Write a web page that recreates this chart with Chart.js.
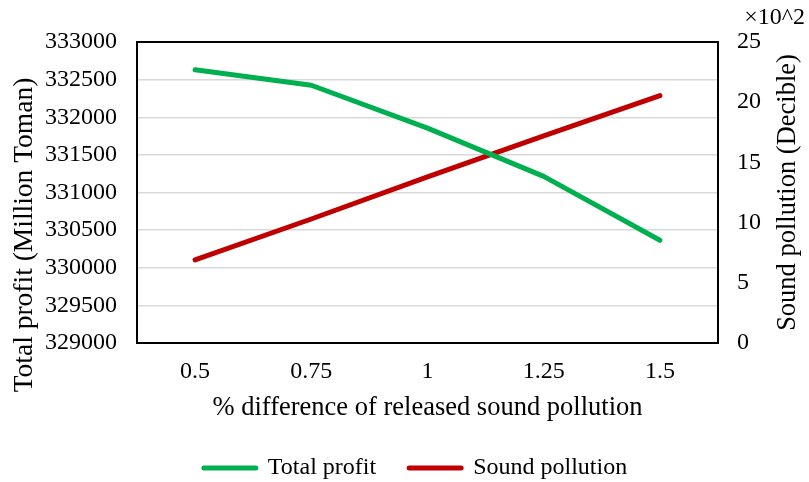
<!DOCTYPE html>
<html>
<head>
<meta charset="utf-8">
<script src="https://cdn.jsdelivr.net/npm/chart.js@4/dist/chart.umd.min.js"></script>
<style>
html,body{margin:0;padding:0;background:#fff;}
#wrap{width:809px;height:482px;position:relative;}
canvas{display:block;}
</style>
</head>
<body>
<div id="wrap"><canvas id="c" width="809" height="482" style="width:809px;height:482px"></canvas></div>
<script>
const categories = ['0.5', '0.75', '1', '1.25', '1.5'];
const totalProfit = [332630, 332425, 331855, 331215, 330365];
const soundPollution = [6.9, 10.3, 13.8, 17.2, 20.55];
const leftTicks = [329000, 329500, 330000, 330500, 331000, 331500, 332000, 332500, 333000];
const rightTicks = [0, 5, 10, 15, 20, 25];
const xTitle = '% difference of released sound pollution';
const leftTitle = 'Total profit (Million Toman)';
const rightTitle = 'Sound pollution (Decible)';
const rightUnit = '\u00d710^2';

const FONT = "'Liberation Serif', 'Times New Roman', serif";

const extraText = {
  id: 'extraText',
  afterDraw(chart) {
    const ctx = chart.ctx;
    const a = chart.chartArea;
    ctx.save();
    ctx.strokeStyle = '#000';
    ctx.lineWidth = 2;
    ctx.strokeRect(a.left, a.top, a.right - a.left, a.bottom - a.top);
    ctx.fillStyle = '#000';
    ctx.textAlign = 'center';
    ctx.textBaseline = 'middle';
    ctx.save();
    ctx.font = '27.5px ' + FONT;
    ctx.translate(25, 235);
    ctx.rotate(-Math.PI / 2);
    ctx.fillText(leftTitle, 0, 0);
    ctx.restore();
    ctx.save();
    ctx.font = '26.5px ' + FONT;
    ctx.translate(788, (a.top + a.bottom) / 2);
    ctx.rotate(-Math.PI / 2);
    ctx.fillText(rightTitle, 0, 0);
    ctx.restore();
    ctx.font = '24px ' + FONT;
    ctx.textAlign = 'right';
    ctx.fillText(rightUnit, 805, 18);
    ctx.restore();
  }
};

new Chart(document.getElementById('c'), {
  type: 'line',
  data: {
    labels: categories,
    datasets: [
      {
        label: 'Total profit',
        data: totalProfit,
        yAxisID: 'y',
        borderColor: '#00B050',
        backgroundColor: '#00B050',
        borderWidth: 5,
        borderCapStyle: 'round',
        borderJoinStyle: 'round',
        pointRadius: 0,
        tension: 0,
        fill: false
      },
      {
        label: 'Sound pollution',
        data: soundPollution,
        yAxisID: 'y1',
        borderColor: '#C00000',
        backgroundColor: '#C00000',
        borderWidth: 5,
        borderCapStyle: 'round',
        borderJoinStyle: 'round',
        pointRadius: 0,
        tension: 0,
        fill: false
      }
    ]
  },
  options: {
    responsive: false,
    maintainAspectRatio: false,
    animation: false,
    devicePixelRatio: 1,
    layout: { padding: { top: 42, left: 22, right: 0, bottom: -8 } },
    plugins: {
      legend: {
        position: 'bottom',
        labels: {
          usePointStyle: true,
          pointStyle: 'line',
          pointStyleWidth: 52,
          boxHeight: 5,
          padding: 33,
          color: '#000',
          font: { family: FONT, size: 24 },
          generateLabels(chart) {
            return chart.data.datasets.map((ds, i) => ({
              text: ds.label,
              datasetIndex: i,
              fillStyle: ds.borderColor,
              strokeStyle: ds.borderColor,
              fontColor: '#000',
              lineWidth: 5,
              lineCap: 'round',
              pointStyle: 'line',
              hidden: false
            }));
          }
        }
      },
      tooltip: { enabled: false }
    },
    scales: {
      x: {
        type: 'category',
        offset: true,
        grid: { display: false, drawTicks: false },
        border: { display: false },
        ticks: { color: '#000', font: { family: FONT, size: 24 }, padding: 14, maxRotation: 0 },
        title: { display: true, text: xTitle, color: '#000', font: { family: FONT, size: 26.5 }, padding: { top: 0, bottom: -1 } },
        afterFit(scale) { scale.height = 80; }
      },
      y: {
        position: 'left',
        min: 329000,
        max: 333000,
        afterBuildTicks(scale) { scale.ticks = leftTicks.map(v => ({ value: v })); },
        grid: { color: '#D9D9D9', lineWidth: 1.5, drawTicks: false },
        border: { display: false },
        ticks: { color: '#000', font: { family: FONT, size: 24 }, padding: 20, callback: v => String(v) },
        afterFit(scale) { scale.width = 115; }
      },
      y1: {
        position: 'right',
        min: 0,
        max: 25,
        afterBuildTicks(scale) { scale.ticks = rightTicks.map(v => ({ value: v })); },
        grid: { display: false, drawTicks: false },
        border: { display: false },
        ticks: { color: '#000', font: { family: FONT, size: 24 }, padding: 19, callback: v => String(v) },
        afterFit(scale) { scale.width = 91; }
      }
    }
  },
  plugins: [extraText]
});
</script>
</body>
</html>
